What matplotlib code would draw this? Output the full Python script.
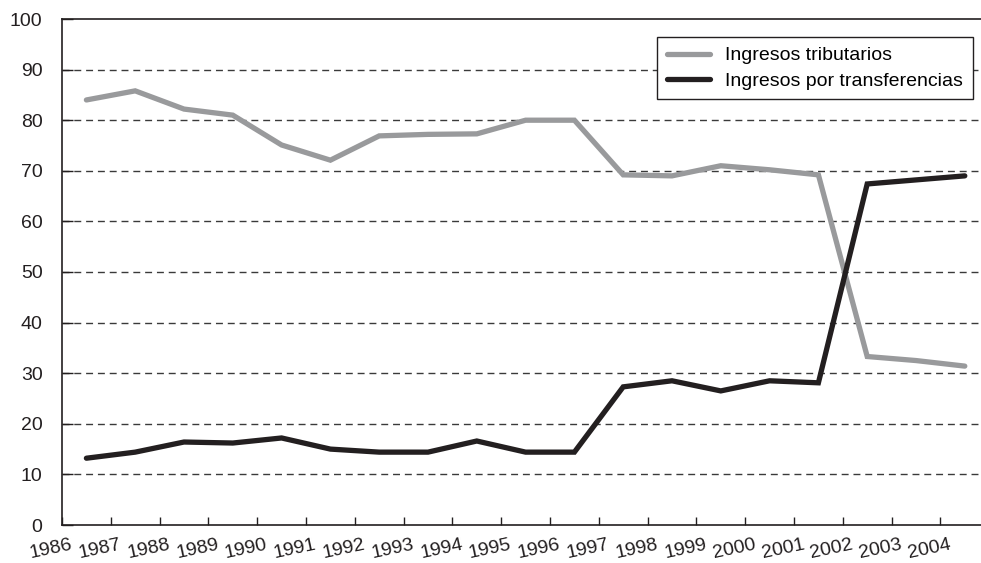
import matplotlib
matplotlib.use("Agg")
import matplotlib.pyplot as plt
import matplotlib.transforms as mtransforms
import numpy as np

years = [str(y) for y in range(1986, 2005)]
tributarios = [84.0, 85.8, 82.2, 81.0, 75.1, 72.1, 76.9, 77.2, 77.3, 80.0, 80.0,
               69.2, 69.0, 71.0, 70.2, 69.2, 33.3, 32.5, 31.4]
transferencias = [13.2, 14.4, 16.4, 16.2, 17.2, 15.0, 14.4, 14.4, 16.6, 14.4, 14.4,
                  27.3, 28.5, 26.5, 28.5, 28.1, 67.4, 68.2, 69.0]
yticks = list(range(0, 101, 10))

plt.rcParams['font.family'] = ['Liberation Sans', 'DejaVu Sans']

W, H = 981, 563
fig = plt.figure(figsize=(W / 100, H / 100), dpi=100)
left, right, top, bottom = 62, 981, 19, 525
ax = fig.add_axes([left / W, (H - bottom) / H, (right - left) / W, (bottom - top) / H])

x = np.arange(len(years))
ax.plot(x, tributarios, color='#999a9c', lw=3.8, solid_joinstyle='miter',
        solid_capstyle='round', label='Ingresos tributarios', zorder=3)
ax.plot(x, transferencias, color='#231f20', lw=3.8, solid_joinstyle='miter',
        solid_capstyle='round', label='Ingresos por transferencias', zorder=3)

step = 48.8
ax.set_xlim(-0.5, -0.5 + (right - left) / step)
ax.set_ylim(0, 100)

ax.set_yticks(yticks)
ax.set_yticklabels([str(v) for v in yticks], fontsize=14)
ax.tick_params(axis='y', direction='in', length=8, width=1, pad=14, colors='#231f20')

ax.set_xticks(x - 0.5)
ax.set_xticklabels(years, fontsize=14, rotation=12, ha='center')
ax.tick_params(axis='x', direction='in', length=6, width=1, pad=8, colors='#231f20')
offset = mtransforms.ScaledTranslation(-11 / 100, 0, fig.dpi_scale_trans)
for lab in ax.get_xticklabels():
    lab.set_transform(lab.get_transform() + offset)

for v in yticks[1:-1]:
    ax.axhline(v, color='#3a3a3a', lw=1, linestyle=(0, (5, 3.5)), zorder=1)

for s in ['left', 'bottom', 'top']:
    ax.spines[s].set_color('#231f20')
    ax.spines[s].set_linewidth(1.2)
ax.spines['right'].set_visible(False)

leg = ax.legend(loc='upper right', bbox_to_anchor=(973 / W, 1 - 37 / H),
                bbox_transform=fig.transFigure, fontsize=14, frameon=True,
                fancybox=False, edgecolor='#231f20', framealpha=1,
                handlelength=2.2, handletextpad=0.8, borderpad=0.5,
                labelspacing=0.4, borderaxespad=0)
leg.get_frame().set_linewidth(1)

fig.savefig('out.png', dpi=100)
